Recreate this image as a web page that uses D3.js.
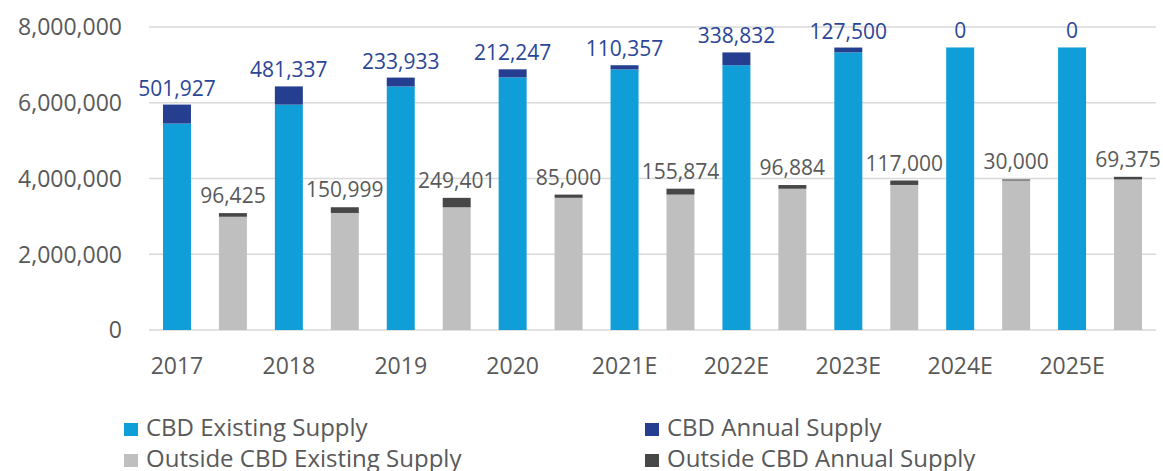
<!DOCTYPE html>
<html>
<head>
<meta charset="utf-8">
<script src="https://cdn.jsdelivr.net/npm/d3@7"></script>
<style>
  html, body { margin: 0; padding: 0; background: #fff; }
  svg { display: block; font-family: "Open Sans", "Noto Sans", sans-serif; }
</style>
</head>
<body>
<svg id="chart" width="1163" height="471"></svg>
<script>
// Office supply: CBD vs outside CBD, existing stock and annual additions
const categories = ["2017", "2018", "2019", "2020", "2021E", "2022E", "2023E", "2024E", "2025E"];
const cbdExisting = [5450000, 5950000, 6430000, 6670000, 6880000, 6990000, 7330000, 7460000, 7460000];
const cbdAnnual = [501927, 481337, 233933, 212247, 110357, 338832, 127500, 0, 0];
const outExisting = [2990000, 3090000, 3240000, 3490000, 3575000, 3730000, 3830000, 3945000, 3975000];
const outAnnual = [96425, 150999, 249401, 85000, 155874, 96884, 117000, 30000, 69375];
const yTicks = [0, 2000000, 4000000, 6000000, 8000000];
const legendItems = [
  { name: "CBD Existing Supply", color: "#0f9ed8" },
  { name: "CBD Annual Supply", color: "#253e8f" },
  { name: "Outside CBD Existing Supply", color: "#bfbfbf" },
  { name: "Outside CBD Annual Supply", color: "#474747" }
];

const svg = d3.select("#chart");
const plot = { left: 149, right: 1156, top: 27, bottom: 330 };

const x0 = d3.scaleBand().domain(categories).range([plot.left, plot.right]).paddingInner(0).paddingOuter(0);
const x1 = d3.scaleBand().domain(["cbd", "out"]).range([0, x0.bandwidth()]).paddingInner(0.5).paddingOuter(0.25);
const y = d3.scaleLinear().domain([0, 8000000]).range([plot.bottom, plot.top]);

// gridlines
svg.append("g")
  .selectAll("line")
  .data(yTicks)
  .join("line")
  .attr("x1", plot.left).attr("x2", plot.right)
  .attr("y1", d => y(d)).attr("y2", d => y(d))
  .attr("stroke", "#d9d9d9").attr("stroke-width", 1.5);

// y axis labels
const fmt = d3.format(",");
svg.append("g")
  .selectAll("text")
  .data(yTicks)
  .join("text")
  .attr("x", 122).attr("y", d => y(d))
  .attr("dy", "0.36em")
  .attr("text-anchor", "end")
  .attr("font-size", 23)
  .attr("fill", "#595959")
  .text(d => fmt(d));

// stacked bars
const rows = categories.map((c, i) => ({
  c, cbdE: cbdExisting[i], cbdA: cbdAnnual[i], outE: outExisting[i], outA: outAnnual[i]
}));

const bw = x1.bandwidth();
const g = svg.append("g");
rows.forEach(r => {
  const xc = x0(r.c) + x1("cbd");
  const xo = x0(r.c) + x1("out");
  g.append("rect").attr("x", xc).attr("width", bw)
    .attr("y", y(r.cbdE)).attr("height", y(0) - y(r.cbdE)).attr("fill", legendItems[0].color);
  g.append("rect").attr("x", xc).attr("width", bw)
    .attr("y", y(r.cbdE + r.cbdA)).attr("height", y(r.cbdE) - y(r.cbdE + r.cbdA)).attr("fill", legendItems[1].color);
  g.append("rect").attr("x", xo).attr("width", bw)
    .attr("y", y(r.outE)).attr("height", y(0) - y(r.outE)).attr("fill", legendItems[2].color);
  g.append("rect").attr("x", xo).attr("width", bw)
    .attr("y", y(r.outE + r.outA)).attr("height", y(r.outE) - y(r.outE + r.outA)).attr("fill", legendItems[3].color);

  // value labels for annual supply
  g.append("text")
    .attr("x", xc + bw / 2).attr("y", y(r.cbdE + r.cbdA) - 9)
    .attr("text-anchor", "middle").attr("font-size", 21).attr("fill", "#2a4697")
    .text(fmt(r.cbdA));
  g.append("text")
    .attr("x", xo + bw / 2).attr("y", y(r.outE + r.outA) - 10)
    .attr("text-anchor", "middle").attr("font-size", 21).attr("fill", "#595959")
    .text(fmt(r.outA));
});

// category labels, centred under the CBD bar
svg.append("g")
  .selectAll("text")
  .data(categories)
  .join("text")
  .attr("x", d => x0(d) + x1("cbd") + bw / 2)
  .attr("y", 374)
  .attr("text-anchor", "middle")
  .attr("font-size", 23)
  .attr("fill", "#595959")
  .text(d => d);

// legend
const legendPos = [[124, 436], [645, 436], [124, 467], [645, 467]];
const lg = svg.append("g").selectAll("g").data(legendItems).join("g")
  .attr("transform", (d, i) => `translate(${legendPos[i][0]},${legendPos[i][1]})`);
lg.append("rect").attr("x", 0).attr("y", -13).attr("width", 14).attr("height", 13).attr("fill", d => d.color);
lg.append("text").attr("x", 22).attr("y", 0)
  .attr("font-size", 24).attr("fill", "#595959").text(d => d.name);
</script>
</body>
</html>
